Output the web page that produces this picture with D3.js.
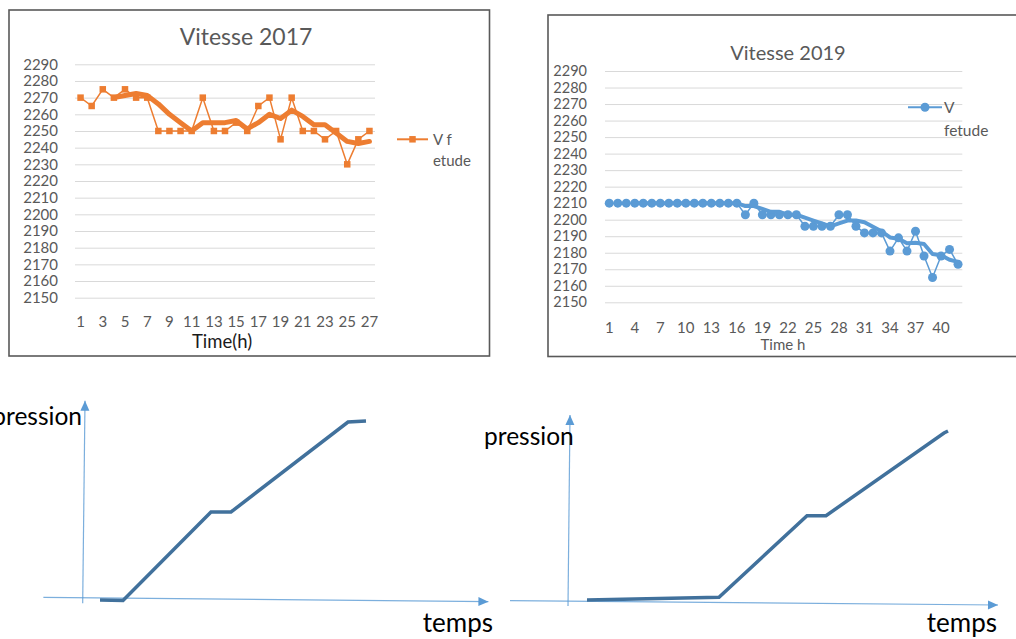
<!DOCTYPE html>
<html>
<head>
<meta charset="utf-8">
<script src="https://cdn.jsdelivr.net/npm/d3@7"></script>
<style>
  html, body { margin: 0; padding: 0; background: #fff; }
  svg { display: block; font-family: Lato, "Open Sans", sans-serif; }
</style>
</head>
<body>
<svg id="fig" width="1016" height="639"></svg>
<script>
// ---- data ----
const hours2017 = d3.range(1, 28);
const speed2017 = [2270, 2265, 2275, 2270, 2275, 2270, 2270, 2250, 2250, 2250,
                   2250, 2270, 2250, 2250, 2255, 2250, 2265, 2270, 2245, 2270,
                   2250, 2250, 2245, 2250, 2230, 2245, 2250];
const hours2019 = d3.range(1, 43);
const speed2019 = [2210, 2210, 2210, 2210, 2210, 2210, 2210, 2210, 2210, 2210,
                   2210, 2210, 2210, 2210, 2210, 2210, 2203, 2210, 2203, 2203,
                   2203, 2203, 2203, 2196, 2196, 2196, 2196, 2203, 2203, 2196,
                   2192, 2192, 2192, 2181, 2189, 2181, 2193, 2178, 2165, 2178,
                   2182, 2173];
const speedTicks = [2150, 2160, 2170, 2180, 2190, 2200, 2210, 2220, 2230, 2240,
                    2250, 2260, 2270, 2280, 2290];
const hourTicks2017 = [1, 3, 5, 7, 9, 11, 13, 15, 17, 19, 21, 23, 25, 27];
const hourTicks2019 = [1, 4, 7, 10, 13, 16, 19, 22, 25, 28, 31, 34, 37, 40];
const legend2017 = ["V f", "etude"];
const legend2019 = ["V", "fetude"];
const trendPeriod = 4;   // moving-average trendline period

// sketch curves: pressure vs time (arbitrary units)
const timeA = [0.85, 2.0, 6.4, 7.4, 13.25, 14.15];
const pressureA = [-0.05, -0.08, 4.35, 4.35, 8.85, 8.9];
const timeB = [0.9, 7.5, 11.9, 12.85, 18.75, 18.95];
const pressureB = [0.05, 0.185, 4.265, 4.265, 8.4, 8.5];

// ---- helpers ----
const svg = d3.select("#fig");
const GRID = "#d9d9d9", TEXT = "#595959";

function movingAverage(values, n) {
  return values.map((v, i) => i < n - 1 ? null : d3.mean(values.slice(i - n + 1, i + 1)));
}

function drawChart(o) {
  const g = svg.append("g");
  g.append("rect")
    .attr("x", o.frame[0]).attr("y", o.frame[1])
    .attr("width", o.frame[2]).attr("height", o.frame[3])
    .attr("fill", "none").attr("stroke", "#595959").attr("stroke-width", 1.6);

  const x = d3.scaleBand().domain(o.hours).range([o.left, o.right]);
  const y = d3.scaleLinear().domain([2150, 2290]).range([o.bottom, o.top]);
  const cx = h => x(h) + x.bandwidth() / 2;

  // horizontal gridlines
  const grid = g.append("g").attr("transform", `translate(${o.left},0)`)
    .call(d3.axisLeft(y).tickValues(speedTicks).tickSize(-(o.right - o.left)).tickFormat(""));
  grid.select(".domain").remove();
  grid.selectAll("line").attr("stroke", GRID).attr("stroke-width", 1);

  // y tick labels
  const ya = g.append("g").attr("transform", `translate(${o.left},0)`)
    .call(d3.axisLeft(y).tickValues(speedTicks).tickSize(0).tickPadding(o.yPad).tickFormat(d3.format("d")));
  ya.select(".domain").remove();
  ya.selectAll("text").attr("fill", TEXT).style("font-size", o.yFont + "px")
    .style("font-family", "Lato, 'Open Sans', sans-serif");

  // x tick labels
  const xa = g.append("g").attr("transform", `translate(0,${o.bottom})`)
    .call(d3.axisBottom(x).tickValues(o.hourTicks).tickSize(0).tickPadding(o.xPad));
  xa.select(".domain").remove();
  xa.selectAll("text").attr("fill", TEXT).style("font-size", o.xFont + "px")
    .style("font-family", "Lato, 'Open Sans', sans-serif");

  // title and axis name
  g.append("text").attr("x", o.title[1]).attr("y", o.title[2]).attr("text-anchor", "middle")
    .attr("fill", TEXT).style("font-size", o.title[3] + "px").text(o.title[0]);
  g.append("text").attr("x", o.xName[1]).attr("y", o.xName[2]).attr("text-anchor", "middle")
    .attr("fill", o.xName[4]).style("font-size", o.xName[3] + "px").text(o.xName[0]);

  // series line
  const line = d3.line().x((d, i) => cx(o.hours[i])).y(d => y(d));
  g.append("path").datum(o.values).attr("d", line)
    .attr("fill", "none").attr("stroke", o.color).attr("stroke-width", o.thin)
    .attr("stroke-linejoin", "round");

  // markers
  const marks = g.append("g");
  o.values.forEach((v, i) => {
    if (o.marker === "square") {
      marks.append("rect").attr("x", cx(o.hours[i]) - o.msize / 2).attr("y", y(v) - o.msize / 2)
        .attr("width", o.msize).attr("height", o.msize).attr("fill", o.color);
    } else {
      marks.append("circle").attr("cx", cx(o.hours[i])).attr("cy", y(v))
        .attr("r", o.msize / 2).attr("fill", o.color);
    }
  });

  // moving-average trendline
  const ma = movingAverage(o.values, trendPeriod);
  const trend = d3.line().defined(d => d !== null).x((d, i) => cx(o.hours[i])).y(d => y(d));
  g.append("path").datum(ma).attr("d", trend)
    .attr("fill", "none").attr("stroke", o.color).attr("stroke-width", o.thick)
    .attr("stroke-linejoin", "round").attr("stroke-linecap", "round");

  // legend
  const L = o.legend;
  g.append("line").attr("x1", L.x0).attr("x2", L.x1).attr("y1", L.y).attr("y2", L.y)
    .attr("stroke", o.color).attr("stroke-width", 2);
  const mx = (L.x0 + L.x1) / 2;
  if (o.marker === "square") {
    g.append("rect").attr("x", mx - o.msize / 2).attr("y", L.y - o.msize / 2)
      .attr("width", o.msize).attr("height", o.msize).attr("fill", o.color);
  } else {
    g.append("circle").attr("cx", mx).attr("cy", L.y).attr("r", o.msize / 2).attr("fill", o.color);
  }
  L.lines.forEach((t, i) => {
    g.append("text").attr("x", L.tx).attr("y", L.ty + i * L.lh)
      .attr("fill", TEXT).style("font-size", L.font + "px").text(t);
  });
}

drawChart({
  frame: [9, 10, 480.5, 346],
  left: 75, right: 375, top: 64.3, bottom: 297.7,
  hours: hours2017, values: speed2017, hourTicks: hourTicks2017,
  yPad: 17, yFont: 15, xPad: 19, xFont: 15,
  title: ["Vitesse 2017", 246, 45, 23],
  xName: ["Time(h)", 222, 348, 18.5, "#1a1a1a"],
  color: "#ed7d31", thin: 1.5, thick: 5, marker: "square", msize: 6.5,
  legend: { x0: 397, x1: 428, y: 139.3, tx: 433, ty: 144.5, lh: 21.5, font: 15, lines: legend2017 }
});

drawChart({
  frame: [548, 15, 480, 341.5],
  left: 605, right: 962.3, top: 71, bottom: 302.3,
  hours: hours2019, values: speed2019, hourTicks: hourTicks2019,
  yPad: 18, yFont: 14.5, xPad: 20, xFont: 15,
  title: ["Vitesse 2019", 788, 59.5, 20],
  xName: ["Time h", 783, 350, 15, TEXT],
  color: "#5b9bd5", thin: 1.5, thick: 4, marker: "circle", msize: 9,
  legend: { x0: 908, x1: 942, y: 107.3, tx: 944, ty: 112.5, lh: 23, font: 15.5, lines: legend2019 }
});

// ---- pressure / time sketches ----
function drawSketch(o) {
  const g = svg.append("g");
  const sx = d3.scaleLinear().domain([0, 20]).range(o.xRange);
  const sy = d3.scaleLinear().domain([0, 10]).range(o.yRange);
  const AX = "#5b9bd5";

  function arrow(a, b) {
    const x1 = sx(a[0]), y1 = sy(a[1]), x2 = sx(b[0]), y2 = sy(b[1]);
    g.append("line").attr("x1", x1).attr("y1", y1).attr("x2", x2).attr("y2", y2)
      .attr("stroke", AX).attr("stroke-width", 1.2).attr("stroke-opacity", 0.8);
    const ang = Math.atan2(y2 - y1, x2 - x1), len = 10, hw = 4.5;
    const bx = x2 - len * Math.cos(ang), by = y2 - len * Math.sin(ang);
    const px = -Math.sin(ang) * hw, py = Math.cos(ang) * hw;
    g.append("path")
      .attr("d", `M${x2},${y2}L${bx + px},${by + py}L${bx - px},${by - py}Z`)
      .attr("fill", AX);
  }
  arrow(o.xAxis[0], o.xAxis[1]);
  arrow(o.yAxis[0], o.yAxis[1]);

  const line = d3.line().x((d, i) => sx(o.t[i])).y(d => sy(d));
  g.append("path").datum(o.p).attr("d", line)
    .attr("fill", "none").attr("stroke", "#41719c").attr("stroke-width", 3.5)
    .attr("stroke-linejoin", "miter");

  g.append("text").attr("x", o.pLabel[0]).attr("y", o.pLabel[1]).attr("text-anchor", o.pLabel[2])
    .attr("fill", "#000").style("font-size", "24.5px").text("pression");
  g.append("text").attr("x", o.tLabel[0]).attr("y", o.tLabel[1]).attr("text-anchor", "end")
    .attr("fill", "#000").style("font-size", "26px").text("temps");
}

drawSketch({
  xRange: [83, 483], yRange: [599, 399],
  t: timeA, p: pressureA,
  xAxis: [[-1.98, 0.085], [20.27, -0.135]],
  yAxis: [[-0.015, -0.215], [0.1, 9.915]],
  pLabel: [82, 425, "end"], tLabel: [493, 632]
});

drawSketch({
  xRange: [569, 969], yRange: [601, 401],
  t: timeB, p: pressureB,
  xAxis: [[-2.95, 0.015], [21.45, -0.2]],
  yAxis: [[-0.05, -0.25], [0.05, 9.3]],
  pLabel: [484, 445, "start"], tLabel: [997, 632]
});
</script>
</body>
</html>
